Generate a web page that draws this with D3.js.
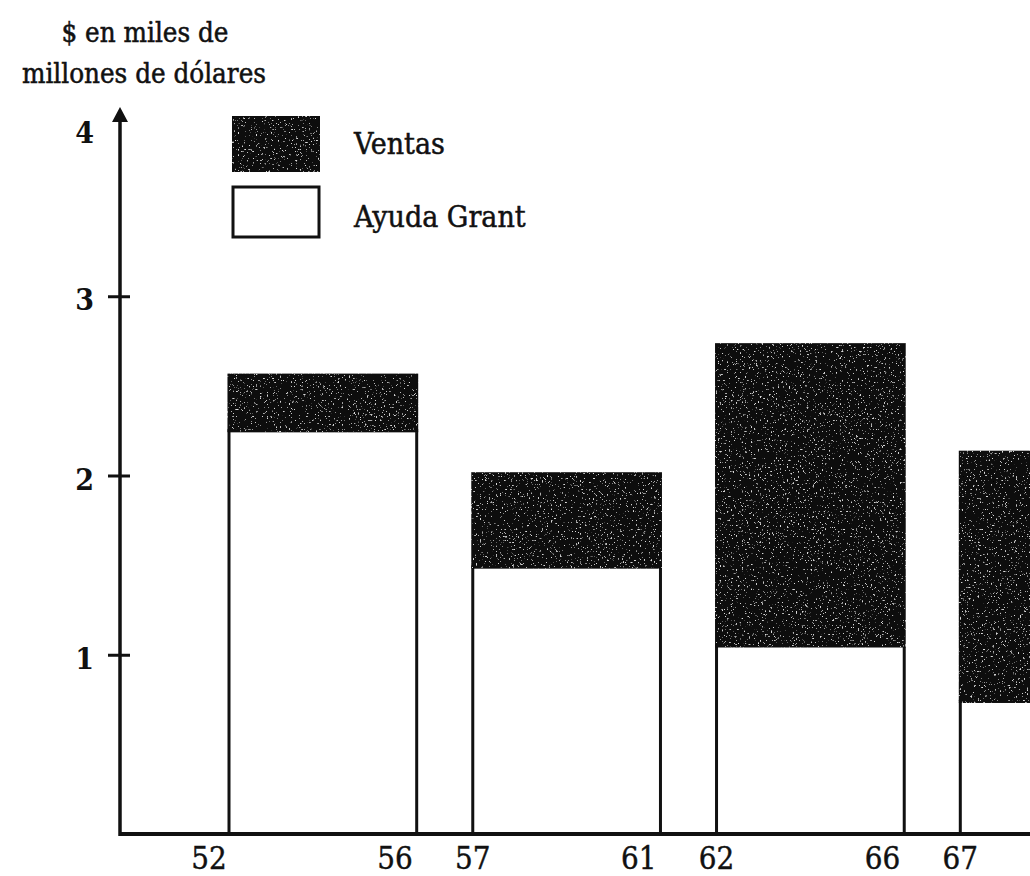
<!DOCTYPE html>
<html>
<head>
<meta charset="utf-8">
<script src="https://cdn.jsdelivr.net/npm/d3@7"></script>
<style>
  body { margin: 0; background: #fff; }
  svg { display: block; }
  text { font-family: "DejaVu Serif Condensed", "DejaVu Serif", serif; font-stretch: condensed; fill: #111; }
  .title { font-size: 27.5px; stroke: #111; stroke-width: 0.5px; }
  .legend-label { font-size: 30px; stroke: #111; stroke-width: 0.5px; }
  .y-tick text { font-size: 30px; font-weight: bold; }
  .x-label { font-size: 31px; stroke: #111; stroke-width: 0.4px; }
</style>
</head>
<body>
<svg id="chart" width="1030" height="876"></svg>
<script>
// DATA: five-year periods, billions of dollars
const periods    = ["1952-56", "1957-61", "1962-66", "1967-71"];
const startYears = ["52", "57", "62", "67"];
const endYears   = ["56", "61", "66", "71"];
const grant      = [2.25, 1.49, 1.05, 0.74];   // Ayuda Grant (white)
const ventas     = [0.31, 0.52, 1.68, 1.39];   // Ventas (dark), stacked on top
const yTicks     = [1, 2, 3, 4];

const legendItems = ["Ventas", "Ayuda Grant"];

const W = 1030;
const svg = d3.select("#chart");

// grainy dark fill like the printed screen
const defs = svg.append("defs");
const grain = defs.append("filter").attr("id", "grain")
    .attr("x", "0").attr("y", "0").attr("width", "1").attr("height", "1");
grain.append("feTurbulence")
    .attr("type", "fractalNoise")
    .attr("baseFrequency", "0.55")
    .attr("numOctaves", 2)
    .attr("seed", 7)
    .attr("result", "noise");
grain.append("feColorMatrix")
    .attr("in", "noise")
    .attr("type", "matrix")
    .attr("values", "0 0 0 0 0.7  0 0 0 0 0.7  0 0 0 0 0.7  9 0 0 0 -5.9")
    .attr("result", "specks");
grain.append("feComposite")
    .attr("in", "specks").attr("in2", "SourceGraphic")
    .attr("operator", "in").attr("result", "clipped");
const merge = grain.append("feMerge");
merge.append("feMergeNode").attr("in", "SourceGraphic");
merge.append("feMergeNode").attr("in", "clipped");

// SCALES
const axisX = 120;
const y = d3.scaleLinear().domain([0, 4]).range([834, 117]);
const x = d3.scaleBand()
    .domain(periods)
    .range([229, 1148])
    .paddingInner(0.23)
    .paddingOuter(0);

// stacked data
const rows = periods.map((p, i) => ({
    period: p, grant: grant[i], total: grant[i] + ventas[i]
}));

// BARS
const bars = svg.append("g");
bars.selectAll("rect.grant")
    .data(rows)
    .enter()
    .append("rect")
    .attr("class", "grant")
    .attr("x", d => x(d.period))
    .attr("y", d => y(d.grant))
    .attr("width", x.bandwidth())
    .attr("height", d => y(0) - y(d.grant))
    .attr("fill", "#fff")
    .attr("stroke", "#111")
    .attr("stroke-width", 3);

bars.selectAll("rect.ventas")
    .data(rows)
    .enter()
    .append("rect")
    .attr("class", "ventas")
    .attr("x", d => x(d.period) - 1.5)
    .attr("y", d => y(d.total) - 1.5)
    .attr("width", x.bandwidth() + 3)
    .attr("height", d => y(d.grant) - y(d.total) + 3)
    .attr("fill", "#0b0b0b")
    .attr("filter", "url(#grain)");

// X AXIS (baseline) and year labels
svg.append("line")
    .attr("x1", axisX).attr("x2", W)
    .attr("y1", y(0)).attr("y2", y(0))
    .attr("stroke", "#111").attr("stroke-width", 4);

svg.selectAll("text.x-start")
    .data(periods)
    .enter()
    .append("text")
    .attr("class", "x-label")
    .attr("x", (d, i) => x(d) - (i === 0 ? 20 : 0))
    .attr("y", 869)
    .attr("text-anchor", "middle")
    .text((d, i) => startYears[i]);

// end-year labels; the last one falls outside the cropped picture
svg.selectAll("text.x-end")
    .data(periods.filter(d => x(d) + x.bandwidth() <= W))
    .enter()
    .append("text")
    .attr("class", "x-label")
    .attr("x", d => x(d) + x.bandwidth() - 4)
    .attr("y", 869)
    .attr("text-anchor", "end")
    .text(d => endYears[periods.indexOf(d)]);

// Y AXIS with arrow
svg.append("line")
    .attr("x1", axisX).attr("x2", axisX)
    .attr("y1", y(0) + 2).attr("y2", 112)
    .attr("stroke", "#111").attr("stroke-width", 3.5);

svg.append("path")
    .attr("d", `M${axisX - 8},${y(4) + 5} L${axisX},${y(4) - 10} L${axisX + 8},${y(4) + 5} Z`)
    .attr("fill", "#111");

const yAxis = svg.append("g")
    .attr("class", "y-tick")
    .attr("transform", `translate(${axisX},0)`)
    .call(d3.axisLeft(y).tickValues(yTicks).tickSize(12).tickPadding(14).tickFormat(d3.format("d")));
yAxis.select(".domain").remove();
yAxis.selectAll(".tick line")
    .attr("x1", 10).attr("x2", -12)
    .attr("stroke", "#111").attr("stroke-width", 3);
yAxis.selectAll(".tick text")
    .attr("fill", "#111")
    .attr("font-family", null)
    .attr("font-size", null)
    .attr("dy", "0.45em");
yAxis.selectAll(".tick").filter(d => d === 4).select("line").remove();
yAxis.selectAll(".tick").filter(d => d === 4).select("text").attr("dy", "0.85em");

// TITLE (units)
svg.append("text").attr("class", "title")
    .attr("x", 145).attr("y", 42).attr("text-anchor", "middle")
    .text("$ en miles de");
svg.append("text").attr("class", "title")
    .attr("x", 144).attr("y", 83).attr("text-anchor", "middle")
    .text("millones de dólares");

// LEGEND
const legend = svg.append("g");
legend.append("rect")
    .attr("x", 232).attr("y", 116).attr("width", 88).attr("height", 56)
    .attr("fill", "#0b0b0b")
    .attr("filter", "url(#grain)");
legend.append("rect")
    .attr("x", 233).attr("y", 187).attr("width", 86).attr("height", 50)
    .attr("fill", "#fff").attr("stroke", "#111").attr("stroke-width", 3);

legend.selectAll("text")
    .data(legendItems)
    .enter()
    .append("text")
    .attr("class", "legend-label")
    .attr("x", 354)
    .attr("y", (d, i) => 154 + i * 73)
    .text(d => d);
</script>
</body>
</html>
